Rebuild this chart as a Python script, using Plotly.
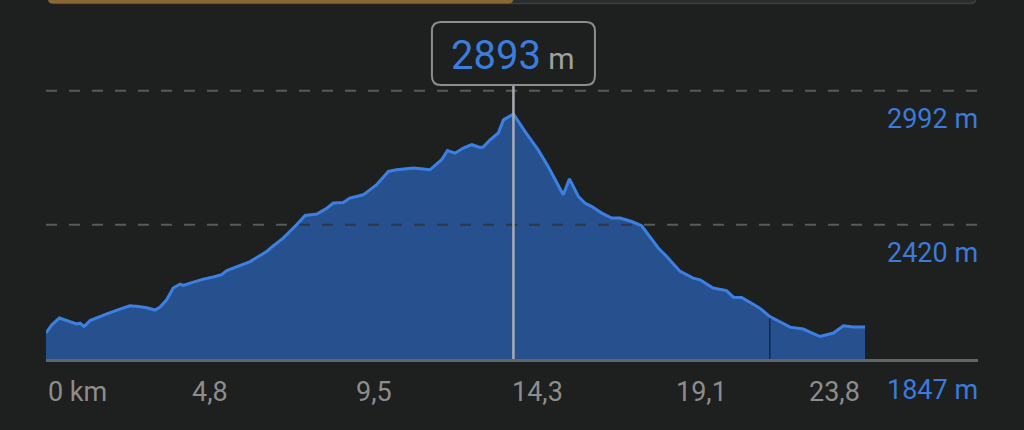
import numpy as np
import plotly.graph_objects as go

# ---------------- data ----------------
dist_km = [0, 0.17, 0.39, 0.55, 0.75, 0.89, 0.99, 1.11, 1.28, 1.48, 1.77, 2.15, 2.44, 2.69, 2.93,
           3.17, 3.32, 3.51, 3.70, 3.90, 3.99, 4.29, 4.58, 4.87, 5.11, 5.26, 5.64, 5.94, 6.18, 6.42,
           6.61, 6.90, 7.29, 7.54, 7.88, 8.17, 8.36, 8.65, 8.84, 9.23, 9.62, 9.96, 10.20, 10.69,
           10.98, 11.17, 11.37, 11.51, 11.68, 11.90, 12.14, 12.39, 12.63, 12.72, 12.92, 13.16,
           13.31, 13.50, 13.60, 13.94, 14.32, 14.61, 15.05, 15.23, 15.49, 15.68, 15.88, 16.17,
           16.46, 16.70, 17.04, 17.33, 17.62, 17.82, 18.06, 18.45, 18.83, 19.03, 19.41, 19.80,
           20.00, 20.24, 20.77, 21.06, 21.65, 22.03, 22.52, 22.91, 23.20, 23.49, 23.83]
elev_m = [1958, 1993, 2022, 2014, 2003, 1997, 2000, 1986, 2011, 2024, 2040, 2060, 2074, 2071, 2066,
          2056, 2069, 2100, 2150, 2167, 2161, 2175, 2188, 2197, 2207, 2225, 2246, 2263, 2285, 2306,
          2330, 2363, 2420, 2460, 2466, 2491, 2513, 2515, 2534, 2548, 2591, 2648, 2655, 2662,
          2658, 2655, 2680, 2698, 2737, 2726, 2748, 2762, 2750, 2752, 2783, 2812,
          2868, 2886, 2893, 2818, 2740, 2669, 2548, 2616, 2541, 2513, 2498, 2470,
          2449, 2449, 2434, 2416, 2356, 2320, 2285, 2221, 2192, 2185, 2150, 2139,
          2111, 2110, 2064, 2028, 1983, 1975, 1943, 1958, 1989, 1984, 1984]
elev_labels = [1847, 2420, 2992]      # right-hand elevation labels
grid_levels = [2420, 2992]            # dashed grid lines
marker_km = 21.06                     # thin dark marker line
n_x_labels = 5

# ---------------- geometry ----------------
W, H = 1024, 430
ML, MR, MT, MB = 46, 46, 85, 71
PW, PH = W - ML - MR, H - MT - MB
M_PER_PX = 4.27
KM_PER_PX = 1 / 34.37
x_range = [0, PW * KM_PER_PX]
y_range = [elev_labels[0], elev_labels[0] + PH * M_PER_PX]

BG = "#1e1f1f"
FILL = "#27508e"
LINE = "#3c80e4"
BLUE_TXT = "#3a7bdb"
GRAY_TXT = "#8d8d8d"
FONT = "Roboto"


def pyp(ypx):  # pixel y -> paper y
    return (H - MB - ypx) / PH


def pxp(xpx):  # pixel x -> paper x
    return (xpx - ML) / PW


def km_to_px(k):
    return ML + k / x_range[1] * PW


total_km = dist_km[-1]
i_peak = int(np.argmax(elev_m))
peak_km, peak_elev = dist_km[i_peak], elev_m[i_peak]
peak_px = km_to_px(peak_km)

fig = go.Figure()
fig.add_trace(go.Scatter(
    x=dist_km, y=elev_m, mode="lines", fill="tozeroy",
    fillcolor=FILL, line=dict(color=LINE, width=3), hoverinfo="skip", showlegend=False))

shapes = []
# dashed grid lines (under the fill)
for g in grid_levels:
    shapes.append(dict(type="line", xref="paper", yref="y", x0=0, x1=1, y0=g, y1=g,
                       line=dict(color="#5a5a5a", width=2, dash="11px,12px"), layer="below"))
# darker dashes visible over the fill
for g in grid_levels:
    arr = np.array(elev_m)
    above = np.where(arr > g)[0]
    if len(above) == 0:
        continue
    a, b = above[0], above[-1]
    xs = np.interp(g, [elev_m[a - 1], elev_m[a]], [dist_km[a - 1], dist_km[a]])
    xe = np.interp(g, [elev_m[b + 1], elev_m[b]], [dist_km[b + 1], dist_km[b]])
    spx, epx = km_to_px(xs), km_to_px(xe)
    k0 = np.ceil((spx - ML) / 23.0)
    k1 = np.floor((epx - ML - 11) / 23.0)
    s = ML + k0 * 23
    e = ML + k1 * 23 + 11
    shapes.append(dict(type="line", xref="paper", yref="y", x0=pxp(s), x1=pxp(e), y0=g, y1=g,
                       line=dict(color="rgba(45,52,66,0.9)", width=2, dash="11px,12px"),
                       layer="above"))

# marker line
marker_elev = float(np.interp(marker_km, dist_km, elev_m))
shapes.append(dict(type="line", xref="x", yref="y", x0=marker_km, x1=marker_km,
                   y0=y_range[0], y1=marker_elev - 6, line=dict(color="#141414", width=1),
                   layer="above"))

# cursor line
shapes.append(dict(type="line", xref="x", yref="paper", x0=peak_km, x1=peak_km, y0=0, y1=1,
                   line=dict(color="#a8acb2", width=2.5), layer="above"))


def rounded_path(x0px, x1px, y0px, y1px, r):
    x0, x1 = pxp(x0px), pxp(x1px)
    yt, yb = pyp(y0px), pyp(y1px)
    rx, ry = r / PW, r / PH
    return (f"M {x0+rx},{yb} L {x1-rx},{yb} Q {x1},{yb} {x1},{yb+ry} "
            f"L {x1},{yt-ry} Q {x1},{yt} {x1-rx},{yt} L {x0+rx},{yt} "
            f"Q {x0},{yt} {x0},{yt-ry} L {x0},{yb+ry} Q {x0},{yb} {x0+rx},{yb} Z")


# tooltip box
shapes.append(dict(type="path", xref="paper", yref="paper",
                   path=rounded_path(peak_px - 81.5, peak_px + 81.5, 22, 85, 9),
                   line=dict(color="#8e8e8e", width=2), fillcolor=BG, layer="above"))

# progress bar at the top
shapes.append(dict(type="path", xref="paper", yref="paper",
                   path=rounded_path(48, 976, -10, 3.5, 6),
                   line=dict(color="#3e3f41", width=1.5), fillcolor="#2b2c2d", layer="above"))
shapes.append(dict(type="path", xref="paper", yref="paper",
                   path=rounded_path(48, peak_px, -10, 3.5, 5),
                   line=dict(color="#8a6833", width=0), fillcolor="#8a6833", layer="above"))

annotations = []
# tooltip text
annotations.append(dict(
    xref="x", yref="paper", x=peak_km, y=pyp(55), xanchor="center", yanchor="middle",
    text=f"{peak_elev}<span style='color:#a0a0a0;font-size:30px'> m</span>",
    showarrow=False, font=dict(family=FONT, size=40, color="#3b7ddd")))

# right-hand elevation labels
for v in elev_labels:
    shift = -31 if v == elev_labels[0] else -28
    annotations.append(dict(
        xref="paper", yref="y", x=pxp(980), y=v, xanchor="right", yanchor="middle",
        yshift=shift, text=f"{v} m", showarrow=False,
        font=dict(family=FONT, size=27, color=BLUE_TXT)))

# distance labels
for i in range(n_x_labels + 1):
    v = total_km * i / n_x_labels
    if i == 0:
        txt, anchor, xs = "0 km", "left", 0
    elif i == n_x_labels:
        txt, anchor, xs = f"{v:.1f}".replace(".", ","), "right", -3
    else:
        txt, anchor, xs = f"{v:.1f}".replace(".", ","), "center", 0
    annotations.append(dict(
        xref="x", yref="paper", x=v, y=pyp(392), xanchor=anchor, yanchor="middle",
        xshift=xs, text=txt, showarrow=False,
        font=dict(family=FONT, size=27, color=GRAY_TXT)))

fig.update_layout(
    width=W, height=H, margin=dict(l=ML, r=MR, t=MT, b=MB, pad=0),
    paper_bgcolor=BG, plot_bgcolor=BG, showlegend=False,
    shapes=shapes, annotations=annotations,
    xaxis=dict(range=x_range, showgrid=False, zeroline=False, showticklabels=False,
               ticks="", showline=True, linecolor="#636568", linewidth=3, fixedrange=True),
    yaxis=dict(range=y_range, showgrid=False, zeroline=False, showticklabels=False,
               ticks="", showline=False, fixedrange=True),
)

fig.write_html(
    "out.html",
    config={"displayModeBar": False},
    post_script=("document.body.style.margin='0';document.body.style.overflow='hidden';"
                 f"document.body.style.background='{BG}';"),
)
